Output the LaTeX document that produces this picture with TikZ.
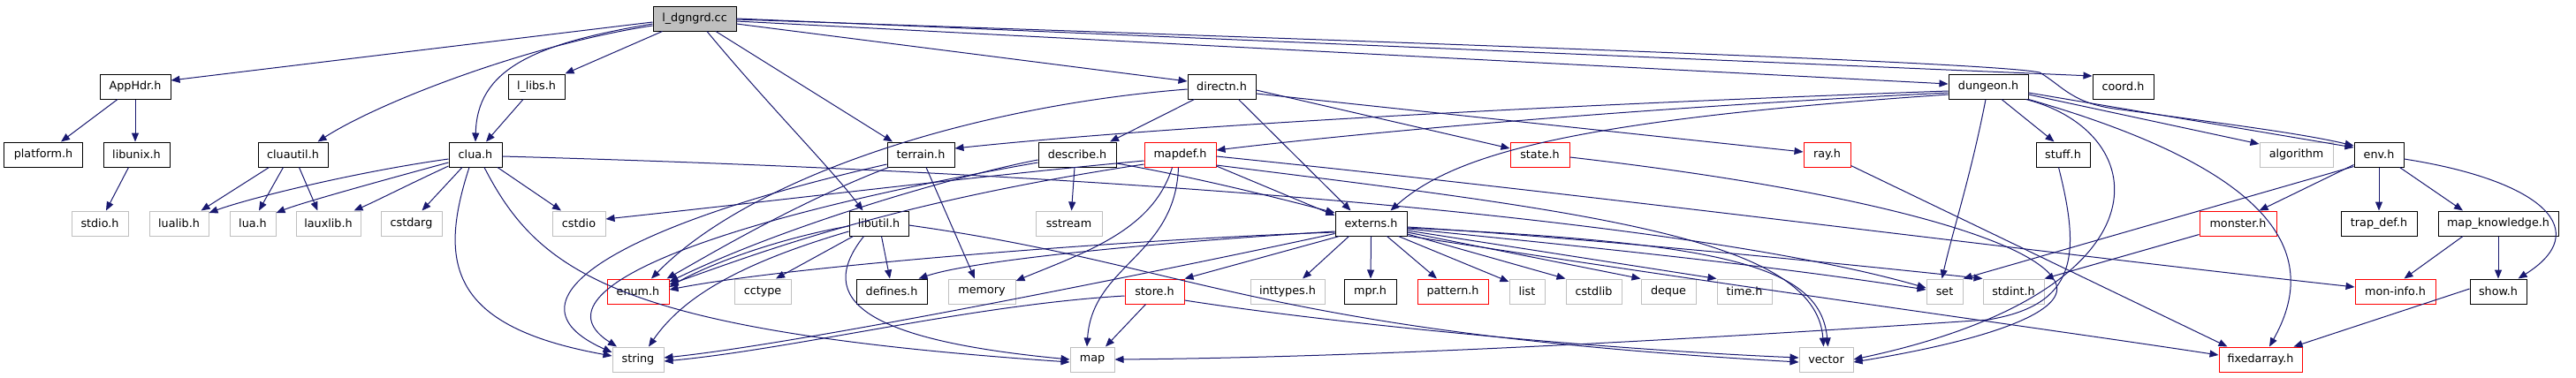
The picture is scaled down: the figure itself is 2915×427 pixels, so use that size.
\documentclass[tikz,border=0pt]{standalone}
\usepackage{fontspec}
\setmainfont{DejaVu Sans}
\usetikzlibrary{arrows.meta,calc}
\definecolor{edgeblue}{HTML}{191970}
\definecolor{sysgray}{HTML}{BFBFBF}
\definecolor{redbox}{HTML}{FF0000}
\tikzset{
  box/.style={draw=black, rectangle, minimum height=28bp, inner sep=0pt, line width=1bp,
    font=\fontsize{12.8}{15}\selectfont, text=black},
  sys/.style={box, draw=sysgray},
  redb/.style={box, draw=redbox},
  e/.style={draw=edgeblue, line width=1bp, -{Triangle[length=10bp,width=8bp]}, edgeblue}
}
\begin{document}
\begin{tikzpicture}[x=1bp,y=-1bp]
\fill[white] (0,0) rectangle (2915,427);
\useasboundingbox (0,0) rectangle (2915,427);
% row 0
\node[box, fill=sysgray, minimum width=94bp] (L) at (786,21) {l\_dgngrd.cc};
% row 1
\node[box, minimum width=80bp] (AppHdr) at (153,98) {AppHdr.h};
\node[box, minimum width=64bp] (llibs) at (607,98) {l\_libs.h};
\node[box, minimum width=77bp] (directn) at (1382.5,98) {directn.h};
\node[box, minimum width=90bp] (dungeon) at (2250,98) {dungeon.h};
\node[box, minimum width=69bp] (coord) at (2402.5,98) {coord.h};
% row 2
\node[box, minimum width=88bp] (platform) at (49,175) {platform.h};
\node[box, minimum width=75bp] (libunix) at (154.5,175) {libunix.h};
\node[box, minimum width=79bp] (cluautil) at (331.5,175) {cluautil.h};
\node[box, minimum width=60bp] (clua) at (538,175) {clua.h};
\node[box, minimum width=76bp] (terrain) at (1042,175) {terrain.h};
\node[box, minimum width=88bp] (describe) at (1219,175) {describe.h};
\node[redb, minimum width=81bp] (mapdef) at (1335.5,175) {mapdef.h};
\node[redb, minimum width=67bp] (state) at (1742.5,175) {state.h};
\node[redb, minimum width=53bp] (ray) at (2067.5,175) {ray.h};
\node[box, minimum width=61bp] (stuff) at (2334.5,175) {stuff.h};
\node[sys, minimum width=83bp] (algorithm) at (2598.5,175) {algorithm};
\node[box, minimum width=56bp] (env) at (2692,175) {env.h};
% row 3
\node[sys, minimum width=64bp] (stdio) at (113,253) {stdio.h};
\node[sys, minimum width=67bp] (lualib) at (202.5,253) {lualib.h};
\node[sys, minimum width=52bp] (lua) at (286,253) {lua.h};
\node[sys, minimum width=73bp] (lauxlib) at (371.5,253) {lauxlib.h};
\node[sys, minimum width=69bp] (cstdarg) at (465.5,253) {cstdarg};
\node[sys, minimum width=60bp] (cstdio) at (655,253) {cstdio};
\node[box, minimum width=67bp] (libutil) at (994.5,253) {libutil.h};
\node[sys, minimum width=75bp] (sstream) at (1209.5,253) {sstream};
\node[box, minimum width=81bp] (externs) at (1551.5,253) {externs.h};
\node[redb, minimum width=87bp] (monster) at (2532.5,253) {monster.h};
\node[box, minimum width=86bp] (trapdef) at (2692,253) {trap\_def.h};
\node[box, minimum width=136bp] (mapknow) at (2827,253) {map\_knowledge.h};
% row 4
\node[redb, minimum width=70bp] (enum) at (722,330) {enum.h};
\node[sys, minimum width=64bp] (cctype) at (863,330) {cctype};
\node[box, minimum width=80bp] (defines) at (1009,330) {defines.h};
\node[sys, minimum width=76bp] (memory) at (1111,330) {memory};
\node[redb, minimum width=67bp] (store) at (1306.5,330) {store.h};
\node[sys, minimum width=84bp] (inttypes) at (1457,330) {inttypes.h};
\node[box, minimum width=59bp] (mpr) at (1550.5,330) {mpr.h};
\node[redb, minimum width=80bp] (pattern) at (1644,330) {pattern.h};
\node[sys, minimum width=40bp] (list) at (1728,330) {list};
\node[sys, minimum width=63bp] (cstdlib) at (1803.5,330) {cstdlib};
\node[sys, minimum width=62bp] (deque) at (1888,330) {deque};
\node[sys, minimum width=62bp] (timeh) at (1974,330) {time.h};
\node[sys, minimum width=41bp] (set) at (2200.5,330) {set};
\node[sys, minimum width=69bp] (stdint) at (2278.5,330) {stdint.h};
\node[redb, minimum width=91bp] (moninfo) at (2710.5,330) {mon-info.h};
\node[box, minimum width=64bp] (show) at (2827,330) {show.h};
% row 5
\node[sys, minimum width=58bp] (string) at (722,407) {string};
\node[sys, minimum width=50bp] (map) at (1236,407) {map};
\node[sys, minimum width=61bp] (vector) at (2066.5,407) {vector};
\node[redb, minimum width=94bp] (fixedarray) at (2558,407) {fixedarray.h};
\coordinate (envbend) at (2308,82);
\coordinate (envbendb) at (2400,124);

% ---- edges from l_dgngrd.cc
\draw[e] ($(L.west)+(0,4)$) -- ($(AppHdr.east)+(0,-7)$);
\draw[e] ($(L.west)+(0,8)$) .. controls (600,50) and (430,115) .. ($(cluautil.north)+(28,0)$);
\draw[e] ($(L.west)+(0,6)$) .. controls (600,50) and (540,80) .. (clua.north);
\draw[e] ($(L.south west)+(11,0)$) -- (llibs.north east);
\draw[e] ($(L.south)+(24,0)$) -- ($(terrain.north)+(-32,0)$);
\draw[e] ($(L.south)+(14,0)$) .. controls (870,120) and (940,190) .. ($(libutil.north)+(-18,0)$);
\draw[e] ($(L.east)+(0,6)$) -- ($(directn.west)+(0,-6)$);
\draw[e] ($(L.east)+(0,3)$) -- ($(dungeon.west)+(0,-3)$);
\draw[e] ($(L.east)+(0,0)$) -- ($(coord.west)+(0,-12)$);
\draw[e] ($(L.east)+(0,1)$) .. controls (1800,55) and (2260,72) .. (envbend) .. controls (2335,98) and (2345,118) .. (envbendb) .. controls (2500,138) and (2600,150) .. ($(env.west)+(0,-10)$);
% AppHdr, libunix
\draw[e] ($(AppHdr.south)+(-20,0)$) -- ($(platform.north)+(20,0)$);
\draw[e] (AppHdr.south) -- ($(libunix.north)+(-1.5,0)$);
\draw[e] ($(libunix.south)+(-9,0)$) -- ($(stdio.north)+(7,0)$);
% cluautil
\draw[e] ($(cluautil.south)+(-27,0)$) -- ($(lualib.north east)+(-9,0)$);
\draw[e] ($(cluautil.south)+(-11,0)$) -- ($(lua.north)+(7,0)$);
\draw[e] ($(cluautil.south)+(7,0)$) -- ($(lauxlib.north)+(-12,0)$);
\draw[e] ($(llibs.south)+(-15,0)$) -- ($(clua.north)+(12,0)$);
% clua
\draw[e] ($(clua.west)+(0,5)$) .. controls (400,195) and (280,225) .. ($(lualib.east)+(0,-12)$);
\draw[e] ($(clua.west)+(0,9)$) .. controls (430,205) and (340,230) .. ($(lua.east)+(0,-12)$);
\draw[e] ($(clua.west)+(0,13)$) .. controls (460,210) and (425,228) .. ($(lauxlib.north east)+(-8,0)$);
\draw[e] ($(clua.south)+(-15,0)$) -- ($(cstdarg.north)+(12,0)$);
\draw[e] ($(clua.south)+(25,0)$) -- ($(cstdio.north)+(-20,0)$);
\draw[e] ($(clua.south)+(-7,0)$) .. controls (495,300) and (510,370) .. ($(string.west)+(0,-4)$);
\draw[e] ($(clua.south)+(10,0)$) .. controls (610,310) and (700,375) .. ($(map.west)+(0,3)$);
\draw[e] ($(clua.east)+(0,2)$) .. controls (1400,200) and (1950,260) .. ($(set.west)+(0,-4)$);
% terrain
\draw[e] ($(terrain.south west)+(2,0)$) .. controls (900,230) and (800,290) .. ($(enum.north east)+(-3,0)$);
\draw[e] ($(terrain.south)+(6,0)$) -- ($(memory.north)+(-8,0)$);
\draw[e] ($(terrain.west)+(0,11)$) .. controls (700,255) and (560,340) .. ($(string.west)+(0,-8)$);
% describe
\draw[e] ($(describe.south)+(-3,0)$) -- ($(sstream.north)+(3,0)$);
\draw[e] ($(describe.east)+(0,10)$) .. controls (1350,200) and (1450,225) .. ($(externs.west)+(0,-12)$);
\draw[e] ($(describe.west)+(0,6)$) .. controls (1100,195) and (900,250) .. ($(enum.east)+(0,-11)$);
\draw[e] ($(describe.west)+(0,9)$) .. controls (800,250) and (600,330) .. ($(string.north)+(-24,0)$);
% mapdef
\draw[e] ($(mapdef.east)+(0,13)$) -- ($(externs.west)+(0,-9)$);
\draw[e] ($(mapdef.west)+(0,11)$) .. controls (1000,230) and (850,290) .. ($(enum.east)+(0,-8)$);
\draw[e] ($(mapdef.south)+(-9,0)$) .. controls (1305,260) and (1230,285) .. ($(memory.east)+(0,-12)$);
\draw[e] ($(mapdef.south)+(-2,0)$) .. controls (1330,290) and (1236,300) .. ($(map.north)+(-6,0)$);
\draw[e] ($(mapdef.west)+(0,7)$) .. controls (1100,200) and (900,225) .. ($(cstdio.east)+(0,-5)$);
\draw[e] ($(mapdef.east)+(0,2)$) .. controls (1800,220) and (2300,285) .. ($(moninfo.west)+(0,-5)$);
\draw[e] ($(mapdef.east)+(0,12)$) .. controls (1800,240) and (2055,270) .. ($(vector.north)+(-3,0)$);
% libutil
\draw[e] ($(libutil.west)+(0,3)$) .. controls (880,270) and (800,300) .. ($(enum.east)+(0,-5)$);
\draw[e] ($(libutil.south)+(3,0)$) -- ($(defines.north)+(-2,0)$);
\draw[e] ($(libutil.south west)+(5,0)$) -- ($(cctype.north)+(15,0)$);
\draw[e] ($(libutil.west)+(0,9)$) .. controls (830,300) and (770,340) .. ($(string.north)+(12,0)$);
\draw[e] ($(libutil.south west)+(17,0)$) .. controls (920,340) and (980,385) .. ($(map.west)+(0,0)$);
\draw[e] ($(libutil.east)+(0,2)$) .. controls (1350,300) and (1420,375) .. ($(vector.west)+(0,3)$);
% externs
\draw[e] ($(externs.west)+(0,10)$) .. controls (1300,270) and (900,300) .. ($(enum.east)+(0,-2)$);
\draw[e] ($(externs.west)+(0,9)$) .. controls (1300,275) and (1100,295) .. ($(defines.north east)+(-10,0)$);
\draw[e] ($(externs.south west)+(0,-3)$) .. controls (1300,310) and (900,390) .. ($(string.east)+(0,-2)$);
\draw[e] ($(externs.south west)+(5,0)$) -- (store.north east);
\draw[e] ($(externs.south)+(-25,0)$) -- ($(inttypes.north)+(17,0)$);
\draw[e] (externs.south) -- ($(mpr.north)+(0.5,0)$);
\draw[e] ($(externs.south)+(18,0)$) -- ($(pattern.north)+(-18,0)$);
\draw[e] ($(externs.south east)+(-10,0)$) -- ($(list.west)+(0,-11)$);
\draw[e] ($(externs.east)+(0,12)$) -- (cstdlib.north west);
\draw[e] ($(externs.east)+(0,10)$) -- (deque.north west);
\draw[e] ($(externs.east)+(0,8)$) -- (timeh.north west);
\draw[e] ($(externs.east)+(0,6)$) .. controls (1800,280) and (2000,300) .. ($(set.west)+(0,-2)$);
\draw[e] ($(externs.east)+(0,4)$) .. controls (1800,270) and (2100,300) .. (stdint.north west);
\draw[e] ($(externs.east)+(0,5)$) .. controls (1950,275) and (2060,300) .. ($(vector.north)+(2,0)$);
\draw[e] ($(externs.east)+(0,14)$) .. controls (2000,330) and (2300,370) .. ($(fixedarray.west)+(0,-5)$);
% directn
\draw[e] ($(directn.south west)+(8,0)$) -- ($(describe.north)+(37,0)$);
\draw[e] ($(directn.east)+(0,4)$) -- ($(state.west)+(0,-7)$);
\draw[e] ($(directn.east)+(0,8)$) -- ($(ray.west)+(0,-3)$);
\draw[e] ($(directn.south east)+(-20,0)$) -- ($(externs.north)+(-23,0)$);
\draw[e] ($(directn.west)+(0,3)$) .. controls (1100,120) and (850,200) .. ($(enum.north)+(15,0)$);
% dungeon
\draw[e] ($(dungeon.west)+(0,5)$) .. controls (1600,125) and (1250,150) .. ($(terrain.east)+(0,-7)$);
\draw[e] ($(dungeon.west)+(0,7)$) .. controls (1800,125) and (1500,155) .. ($(mapdef.east)+(0,-5)$);
\draw[e] ($(dungeon.west)+(0,9)$) .. controls (1800,135) and (1650,170) .. ($(externs.north)+(22,0)$);
\draw[e] ($(dungeon.south)+(-3,0)$) .. controls (2230,200) and (2210,260) .. ($(set.north)+(-3,0)$);
\draw[e] ($(dungeon.south)+(15,0)$) -- ($(stuff.north)+(-10,0)$);
\draw[e] ($(dungeon.south east)+(-3,0)$) .. controls (2440,150) and (2460,330) .. (vector.east);
\draw[e] (dungeon.south east) .. controls (2600,200) and (2620,300) .. ($(fixedarray.north)+(10,0)$);
\draw[e] ($(dungeon.east)+(0,9)$) -- ($(algorithm.west)+(0,-12)$);
\draw[e] ($(dungeon.east)+(0,7)$) -- ($(env.west)+(0,-8)$);
% env
\draw[e] ($(env.south west)+(0,-3)$) -- ($(monster.north east)+(-20,0)$);
\draw[e] (env.south) -- (trapdef.north);
\draw[e] ($(env.south east)+(-5,0)$) -- ($(mapknow.north)+(-40,0)$);
\draw[e] ($(env.east)+(0,5)$) .. controls (2880,205) and (2935,262) .. ($(show.north east)+(-10,0)$);
\draw[e] ($(env.south west)+(0,-1)$) -- (set.north east);
% map_knowledge, show, monster, ray, state, stuff, store
\draw[e] ($(mapknow.south)+(-40,0)$) -- ($(moninfo.north)+(10,0)$);
\draw[e] (mapknow.south) -- (show.north);
\draw[e] ($(show.west)+(0,-3)$) -- ($(fixedarray.north east)+(-10,0)$);
\draw[e] ($(monster.south west)+(0,-2)$) -- (stdint.north east);
\draw[e] ($(ray.south east)+(0,-2)$) -- ($(fixedarray.north west)+(10,0)$);
\draw[e] ($(state.east)+(0,3)$) .. controls (2100,215) and (2300,270) .. (2325,318) .. controls (2345,352) and (2250,385) .. ($(vector.east)+(0,3)$);
\draw[e] ($(stuff.south)+(-5,0)$) .. controls (2355,290) and (2350,345) .. (2250,362) .. controls (1800,392) and (1500,405) .. (map.east);
\draw[e] ($(store.west)+(0,5)$) .. controls (1100,345) and (900,395) .. ($(string.east)+(0,2)$);
\draw[e] ($(store.south)+(-10,0)$) -- ($(map.north)+(15,0)$);
\draw[e] ($(store.east)+(0,10)$) .. controls (1500,365) and (1800,395) .. ($(vector.west)+(0,-2)$);
\end{tikzpicture}
\end{document}
